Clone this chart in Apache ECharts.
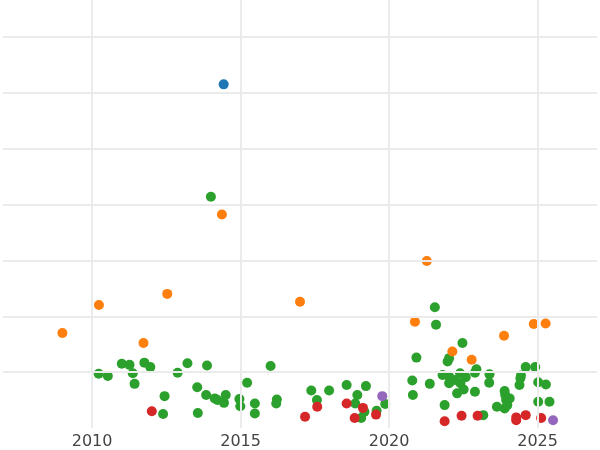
<!DOCTYPE html>
<html>
<head>
<meta charset="utf-8">
<script src="https://cdn.jsdelivr.net/npm/echarts@6/dist/echarts.min.js"></script>
<style>html,body{margin:0;padding:0;background:#fff}#chart{width:600px;height:450px}</style>
</head>
<body>
<div id="chart"></div>
<script>
// [year, value]
const bluePoints = [[2014.43, 6.15]];
const orangePoints = [
    [2009.0, 1.70], [2010.23, 2.20], [2012.53, 2.40], [2011.73, 1.52], [2014.37, 3.82],
    [2017.0, 2.26], [2021.27, 2.99], [2020.87, 1.90], [2022.13, 1.37], [2022.78, 1.22],
    [2023.87, 1.65], [2024.87, 1.86], [2025.27, 1.87]
];
const redPoints = [
    [2012.01, 0.30], [2017.17, 0.20], [2017.58, 0.38], [2018.57, 0.44], [2018.84, 0.18],
    [2019.12, 0.36], [2019.56, 0.24], [2021.87, 0.12], [2022.44, 0.22], [2022.98, 0.22],
    [2024.28, 0.19], [2024.28, 0.14], [2024.6, 0.23], [2025.12, 0.18]
];
const purplePoints = [[2019.77, 0.57], [2025.52, 0.14]];
const greenPoints = [
    [2014.0, 4.14],
    [2010.22, 0.97], [2010.53, 0.93], [2011.0, 1.15], [2011.26, 1.13], [2011.37, 0.98],
    [2011.43, 0.79], [2011.76, 1.17], [2011.96, 1.09], [2012.44, 0.57], [2012.39, 0.25],
    [2012.88, 0.99], [2013.21, 1.16], [2013.54, 0.73], [2013.56, 0.27], [2013.87, 1.12],
    [2013.84, 0.59], [2014.13, 0.53], [2014.22, 0.50], [2014.44, 0.45], [2014.5, 0.59],
    [2014.96, 0.52], [2014.99, 0.39], [2015.22, 0.81], [2015.48, 0.44], [2015.48, 0.26],
    [2016.01, 1.11], [2016.22, 0.51], [2016.2, 0.44],
    [2017.38, 0.67], [2017.57, 0.50], [2017.98, 0.67], [2018.57, 0.77], [2018.93, 0.59],
    [2018.86, 0.44], [2019.22, 0.75], [2019.06, 0.18], [2019.17, 0.29], [2019.58, 0.31],
    [2019.87, 0.43], [2020.78, 0.85], [2020.8, 0.59], [2020.92, 1.26], [2021.37, 0.79],
    [2021.54, 2.16], [2021.58, 1.85], [2021.8, 0.95], [2021.87, 0.41], [2021.97, 1.19],
    [2022.02, 1.25], [2022.02, 0.92], [2022.02, 0.80], [2022.22, 0.86], [2022.29, 0.62],
    [2022.39, 0.98], [2022.4, 0.80], [2022.47, 1.52], [2022.51, 0.69], [2022.58, 0.91],
    [2022.89, 0.99], [2022.94, 1.05], [2022.89, 0.65], [2023.17, 0.23], [2023.38, 0.96],
    [2023.37, 0.81], [2023.63, 0.38], [2023.89, 0.66], [2023.91, 0.59], [2023.94, 0.50],
    [2024.06, 0.53], [2023.89, 0.35], [2023.98, 0.41], [2024.39, 0.77], [2024.42, 0.89],
    [2024.44, 0.94], [2024.6, 1.09], [2024.92, 1.09], [2025.02, 0.82], [2025.28, 0.78],
    [2025.02, 0.47], [2025.4, 0.47]
];
const xGridYears = [2010, 2015, 2020, 2025];
const yGridValues = [1, 2, 3, 4, 5, 6, 7];

const chart = echarts.init(document.getElementById('chart'));

const dot = (name, data, color) => ({
    name: name,
    type: 'scatter',
    data: data,
    symbolSize: 10,
    itemStyle: { color: color, opacity: 1 }
});

// grid lines drawn as mark lines so they don't need to line up with axis min
const gridSeries = {
    type: 'scatter',
    data: [],
    silent: true,
    markLine: {
        silent: true,
        symbol: 'none',
        label: { show: false },
        lineStyle: { color: '#ebebeb', width: 2, type: 'solid' },
        data: xGridYears.map(v => ({ xAxis: v })).concat(yGridValues.map(v => ({ yAxis: v })))
    }
};

chart.setOption({
    animation: false,
    backgroundColor: '#fff',
    grid: { left: 0, right: 0, top: 0, bottom: 22, containLabel: false },
    xAxis: {
        type: 'value',
        min: 2007,
        max: 2027,
        interval: 1,
        axisLine: { show: false },
        axisTick: { show: false },
        splitLine: { show: false },
        axisLabel: {
            show: true,
            margin: 6,
            color: '#444',
            fontFamily: 'DejaVu Sans',
            fontSize: 16,
            formatter: v => (v % 5 === 0 ? String(v) : '')
        }
    },
    yAxis: {
        type: 'value',
        min: 0,
        max: 7.66,
        axisLine: { show: false },
        axisTick: { show: false },
        axisLabel: { show: false },
        splitLine: { show: false }
    },
    series: [
        gridSeries,
        dot('green', greenPoints, '#2ca02c'),
        dot('orange', orangePoints, '#ff7f0e'),
        dot('red', redPoints, '#d62728'),
        dot('purple', purplePoints, '#9467bd'),
        dot('blue', bluePoints, '#1f77b4')
    ]
});
</script>
</body>
</html>
